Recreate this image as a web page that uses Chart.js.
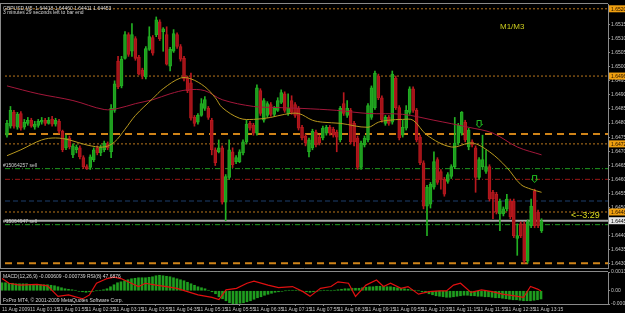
<!DOCTYPE html>
<html><head><meta charset="utf-8">
<script src="https://cdn.jsdelivr.net/npm/chart.js@4.4.1/dist/chart.umd.min.js"></script>
<style>
html,body{margin:0;padding:0;background:#000;width:625px;height:313px;overflow:hidden}
#wrap{position:relative;width:625px;height:313px;background:#000;overflow:hidden}
canvas{display:block;position:absolute;left:0}
#c1{top:-1px}
#c2{top:266px}
</style></head><body>
<div id="wrap"><canvas id="c1" width="625" height="274" style="width:625px;height:274px"></canvas><canvas id="c2" width="625" height="47" style="width:625px;height:47px"></canvas></div>
<script>
// ---------- data ----------
const symbolTitle = "GBPUSD,M5";
const countdownText = "3 minutes 29 seconds left to bar end";
const tickBars = [0,8,16,24,32,40,48,56,64,72,80,88,96,104,112,120,128,136,144,152];
const tickLabels = ["11 Aug 2009","11 Aug 01:15","11 Aug 01:55","11 Aug 02:35","11 Aug 03:15","11 Aug 03:55","11 Aug 04:35","11 Aug 05:15","11 Aug 05:55","11 Aug 06:35","11 Aug 07:15","11 Aug 07:55","11 Aug 08:35","11 Aug 09:15","11 Aug 09:55","11 Aug 10:35","11 Aug 11:15","11 Aug 11:55","11 Aug 12:35","11 Aug 13:15"];
const priceTicks = [1.6515,1.6510,1.6505,1.6500,1.6495,1.6490,1.6485,1.6480,1.6475,1.6470,1.6465,1.6460,1.6455,1.6450,1.6445,1.6440,1.6435,1.6430];
const macdTicks = [0.00139,0,-0.00098];

const opens = [1.64757,1.64789,1.64838,1.64785,1.64834,1.64785,1.64799,1.64810,1.64785,1.64792,
1.64803,1.64810,1.64799,1.64813,1.64796,1.64806,1.64771,1.64712,1.64747,1.64687,
1.64705,1.64712,1.64677,1.64645,1.64642,1.64670,1.64712,1.64694,1.64705,1.64726,
1.64698,1.64845,1.65020,1.64932,1.65030,1.65114,1.65055,1.65100,1.65034,1.64988,
1.64964,1.65062,1.65104,1.65114,1.65160,1.65125,1.65114,1.65002,1.65055,1.65114,
1.65072,1.65030,1.64960,1.64943,1.64820,1.64803,1.64827,1.64852,1.64852,1.64810,
1.64705,1.64698,1.64712,1.64519,1.64607,1.64698,1.64663,1.64663,1.64694,1.64733,
1.64799,1.64792,1.64764,1.64915,1.64810,1.64827,1.64866,1.64831,1.64845,1.64873,
1.64904,1.64834,1.64880,1.64866,1.64852,1.64785,1.64754,1.64698,1.64712,1.64768,
1.64750,1.64747,1.64764,1.64785,1.64778,1.64768,1.64740,1.64869,1.64827,1.64845,
1.64799,1.64747,1.64642,1.64722,1.64740,1.64820,1.64855,1.64967,1.64890,1.64799,
1.64820,1.64803,1.64960,1.64855,1.64757,1.64782,1.64838,1.64922,1.64845,1.64750,
1.64659,1.64505,1.64512,1.64572,1.64670,1.64628,1.64600,1.64593,1.64610,1.64645,
1.64729,1.64764,1.64803,1.64715,1.64733,1.64712,1.64607,1.64645,1.64628,1.64645,
1.64554,1.64547,1.64477,1.64477,1.64495,1.64523,1.64523,1.64390,1.64442,1.64442,
1.64309,1.64435,1.64558,1.64484,1.64418];
const highs = [1.64810,1.64859,1.64845,1.64838,1.64841,1.64813,1.64820,1.64817,1.64806,1.64813,
1.64820,1.64817,1.64820,1.64824,1.64817,1.64813,1.64775,1.64757,1.64754,1.64726,
1.64722,1.64719,1.64684,1.64652,1.64687,1.64712,1.64719,1.64722,1.64736,1.64733,
1.64866,1.64950,1.65037,1.65037,1.65125,1.65121,1.65153,1.65107,1.65041,1.64995,
1.65072,1.65142,1.65111,1.65177,1.65167,1.65139,1.65142,1.65069,1.65132,1.65121,
1.65079,1.65037,1.64967,1.64978,1.64827,1.64834,1.64887,1.64894,1.64859,1.64817,
1.64712,1.64740,1.64719,1.64617,1.64740,1.64712,1.64684,1.64705,1.64740,1.64810,
1.64806,1.64799,1.64936,1.64922,1.64887,1.64876,1.64873,1.64859,1.64890,1.64918,
1.64911,1.64904,1.64897,1.64873,1.64859,1.64792,1.64761,1.64747,1.64778,1.64775,
1.64757,1.64789,1.64792,1.64792,1.64785,1.64775,1.64859,1.64908,1.64880,1.64852,
1.64806,1.64754,1.64736,1.64754,1.64869,1.64932,1.64985,1.64974,1.64897,1.64827,
1.64827,1.64985,1.64967,1.64862,1.64810,1.64862,1.64929,1.64929,1.64852,1.64757,
1.64666,1.64579,1.64589,1.64698,1.64677,1.64635,1.64607,1.64624,1.64652,1.64820,
1.64799,1.64841,1.64810,1.64782,1.64740,1.64719,1.64677,1.64757,1.64705,1.64652,
1.64561,1.64554,1.64530,1.64502,1.64547,1.64530,1.64530,1.64442,1.64449,1.64449,
1.64456,1.64530,1.64565,1.64491,1.64460];
const lows = [1.64750,1.64782,1.64782,1.64778,1.64775,1.64778,1.64792,1.64785,1.64778,1.64785,
1.64796,1.64792,1.64796,1.64789,1.64789,1.64764,1.64698,1.64705,1.64708,1.64677,
1.64694,1.64673,1.64638,1.64635,1.64635,1.64663,1.64687,1.64684,1.64698,1.64705,
1.64677,1.64838,1.64922,1.64925,1.65027,1.65037,1.65037,1.65023,1.64971,1.64957,
1.64957,1.65058,1.65041,1.65107,1.65093,1.65055,1.65006,1.64985,1.65051,1.65065,
1.65020,1.64950,1.64908,1.64810,1.64789,1.64796,1.64824,1.64845,1.64813,1.64687,
1.64649,1.64694,1.64512,1.64453,1.64600,1.64642,1.64656,1.64659,1.64687,1.64726,
1.64775,1.64757,1.64757,1.64827,1.64803,1.64820,1.64824,1.64824,1.64841,1.64869,
1.64838,1.64827,1.64831,1.64820,1.64775,1.64740,1.64719,1.64680,1.64705,1.64715,
1.64722,1.64740,1.64757,1.64757,1.64750,1.64698,1.64733,1.64827,1.64820,1.64726,
1.64719,1.64635,1.64635,1.64715,1.64733,1.64813,1.64848,1.64883,1.64803,1.64792,
1.64792,1.64796,1.64848,1.64740,1.64750,1.64775,1.64831,1.64838,1.64733,1.64652,
1.64495,1.64400,1.64498,1.64565,1.64582,1.64565,1.64540,1.64586,1.64603,1.64638,
1.64722,1.64757,1.64733,1.64705,1.64715,1.64554,1.64600,1.64635,1.64621,1.64523,
1.64460,1.64477,1.64418,1.64470,1.64488,1.64460,1.64393,1.64330,1.64393,1.64302,
1.64302,1.64428,1.64428,1.64428,1.64411];
const closes = [1.64799,1.64845,1.64789,1.64831,1.64782,1.64803,1.64810,1.64789,1.64796,1.64806,
1.64810,1.64799,1.64810,1.64796,1.64810,1.64771,1.64705,1.64747,1.64715,1.64719,
1.64715,1.64680,1.64645,1.64638,1.64680,1.64705,1.64694,1.64715,1.64729,1.64712,
1.64852,1.64939,1.64929,1.65027,1.65114,1.65044,1.65114,1.65030,1.64974,1.64967,
1.65065,1.65107,1.65048,1.65167,1.65100,1.65135,1.65009,1.65062,1.65118,1.65072,
1.65027,1.64957,1.64915,1.64817,1.64799,1.64827,1.64869,1.64883,1.64820,1.64705,
1.64659,1.64712,1.64519,1.64610,1.64705,1.64652,1.64677,1.64698,1.64733,1.64796,
1.64782,1.64764,1.64925,1.64834,1.64880,1.64869,1.64831,1.64852,1.64880,1.64908,
1.64845,1.64852,1.64838,1.64827,1.64782,1.64747,1.64729,1.64740,1.64771,1.64722,
1.64729,1.64782,1.64785,1.64764,1.64757,1.64750,1.64852,1.64834,1.64852,1.64733,
1.64733,1.64642,1.64729,1.64747,1.64862,1.64925,1.64978,1.64890,1.64810,1.64820,
1.64799,1.64974,1.64855,1.64747,1.64785,1.64845,1.64922,1.64845,1.64740,1.64659,
1.64505,1.64572,1.64582,1.64663,1.64589,1.64600,1.64547,1.64617,1.64645,1.64729,
1.64792,1.64838,1.64740,1.64775,1.64722,1.64607,1.64670,1.64670,1.64645,1.64530,
1.64530,1.64484,1.64523,1.64495,1.64530,1.64467,1.64400,1.64400,1.64400,1.64309,
1.64449,1.64505,1.64435,1.64435,1.64453];

const maFastIdx = [0,4,10,14,18,23,28,31,34,37,42,45,50,53,57,60,62,67,71,76,80,84,88,91,96,104,107,110,114,117,121,128,134,139,144,148,151,154];
const maFastVal = [1.64684,1.64705,1.64740,1.64747,1.64740,1.64722,1.64715,1.64733,1.64778,1.64827,1.64887,1.64922,1.64960,1.64957,1.64929,1.64890,1.64855,1.64817,1.64813,1.64820,1.64831,1.64834,1.64810,1.64803,1.64799,1.64785,1.64803,1.64810,1.64813,1.64810,1.64757,1.64715,1.64729,1.64698,1.64642,1.64582,1.64565,1.64554];
const maSlowIdx = [0,9,19,28,32,37,42,47,52,57,62,71,78,85,95,104,114,123,133,140,147,154];
const maSlowVal = [1.64932,1.64904,1.64880,1.64848,1.64852,1.64869,1.64883,1.64904,1.64918,1.64915,1.64883,1.64859,1.64855,1.64852,1.64845,1.64834,1.64831,1.64810,1.64785,1.64764,1.64715,1.64687];

const levelsOrangeDotted = [1.65206,1.64967,1.64726,1.64484];
const levelsOrangeDashed = [1.64761,1.64302];
const levelsGreen = [1.64638,1.64439];
const levelsRed = [1.64600];
const levelsBlue = [1.64523];
const bidPrice = 1.64453;
const orderLabels = ["#15064257 sell","#15064947 sell"];

const arrowIdx = [136,152];
const arrowPrice = [1.64797,1.64602];

const macdHist = [0.000592,0.000592,0.000555,0.000555,0.000518,0.000518,0.000518,0.000518,0.000481,0.000481,0.000481,0.000444,0.000444,0.000444,0.000407,
0.000370,0.000296,0.000222,0.000148,0.000111,0.000074,0.000037,-0.000037,-0.000074,-0.000111,-0.000074,-0.000037,0.000000,0.000037,
0.000074,0.000148,0.000296,0.000444,0.000592,0.000666,0.000740,0.000814,0.000888,0.000925,0.000962,0.000962,0.000962,0.000999,0.001036,0.001110,0.001147,0.001110,0.001073,0.001036,0.000962,0.000888,
0.000814,0.000740,0.000629,0.000518,0.000407,0.000296,0.000222,0.000148,0.000037,
-0.000074,-0.000222,-0.000444,-0.000592,-0.000740,-0.000888,-0.000962,-0.000962,-0.000925,-0.000888,-0.000814,-0.000740,-0.000629,-0.000518,-0.000444,-0.000333,-0.000259,-0.000185,-0.000111,
-0.000074,-0.000037,0.000000,0.000037,0.000037,0.000037,0.000000,-0.000037,-0.000074,-0.000111,-0.000074,-0.000037,0.000000,0.000037,0.000037,0.000000,0.000037,
0.000074,0.000111,0.000148,0.000148,0.000185,0.000185,0.000185,0.000222,0.000259,0.000296,0.000296,0.000333,0.000333,0.000333,0.000296,0.000296,0.000259,
0.000222,0.000185,0.000148,0.000111,0.000074,0.000037,0.000000,-0.000074,-0.000148,
-0.000222,-0.000296,-0.000370,-0.000407,-0.000444,-0.000481,-0.000481,-0.000444,-0.000407,-0.000370,-0.000333,-0.000333,-0.000370,-0.000370,-0.000407,-0.000407,-0.000444,-0.000444,-0.000481,
-0.000518,-0.000518,-0.000555,-0.000592,-0.000629,-0.000666,-0.000666,-0.000703,-0.000740,-0.000740,-0.000740,-0.000703,-0.000666,-0.000609];
const rsiIdx = [0,2,5,10,13,16,19,23,25,27,30,32,34,36,39,41,44,47,50,53,56,60,62,64,67,70,72,76,79,83,86,88,91,94,96,99,101,104,107,109,111,114,116,119,122,125,127,129,131,134,137,140,143,146,149,151,153,154];
const rsiVal = [82,69,64,66,62,33,37,26,37,69,82,86,82,73,60,69,64,60,55,46,37,30,24,51,55,69,75,64,57,60,46,33,55,60,73,69,33,64,78,60,69,55,60,39,46,48,48,64,69,44,51,46,39,35,30,60,53,47.6876];
const macdSignal = -0.000739;

// ---------- layout constants ----------
const X_MIN = -0.5714, X_MAX = 173.143;
const Y_MAX = 1.65223, Y_MIN = 1.64285;
const FF = "'Liberation Sans', Arial, sans-serif";
const upCol = '#22b022', dnCol = '#b8181e';
const upFill = 'rgba(30,140,30,0.55)', dnFill = 'rgba(150,18,22,0.55)';

const N = opens.length;
const last = N - 1;
const isUp = closes.map((c,i)=>c>=opens[i]);
const bodyData = opens.map((o,i)=>({x:i, y:[Math.min(o,closes[i]), Math.max(o,closes[i])]}));
const wickData = opens.map((o,i)=>({x:i, y:[lows[i], highs[i]]}));

function hline(p, color, dash, width){
  return {type:'line', data:[{x:X_MIN,y:p},{x:X_MAX,y:p}], borderColor:color, borderDash:dash, borderWidth:width, pointRadius:0, order:10};
}
function arrowImg(){
  const c=document.createElement('canvas'); c.width=7; c.height=8;
  const g=c.getContext('2d'); g.strokeStyle='#22cc22'; g.lineWidth=1;
  g.beginPath(); g.moveTo(1.5,0.5); g.lineTo(5.5,0.5); g.lineTo(5.5,4.5); g.lineTo(6.5,4.5);
  g.lineTo(3.5,7.5); g.lineTo(0.5,4.5); g.lineTo(1.5,4.5); g.closePath(); g.stroke();
  return c;
}

const datasets = [];
levelsOrangeDotted.forEach(p=>datasets.push(hline(p,'#b8761c',[2,2],1)));
levelsOrangeDashed.forEach(p=>datasets.push(hline(p,'#d08418',[7,5],2)));
levelsGreen.forEach(p=>datasets.push(hline(p,'#1f9e1f',[5,2,1,2],1)));
levelsRed.forEach(p=>datasets.push(hline(p,'#9c1616',[5,2,1,2],1)));
levelsBlue.forEach(p=>datasets.push(hline(p,'#1c3e6c',[5,3],1)));
datasets.push(hline(bidPrice,'#a8a8a8',[],2));
datasets.push({type:'bar', data:wickData, backgroundColor:isUp.map(u=>u?upCol:dnCol), barThickness:1, grouped:false, order:8});
datasets.push({type:'bar', data:bodyData, backgroundColor:isUp.map(u=>u?upFill:dnFill), borderColor:isUp.map(u=>u?upCol:dnCol), borderWidth:1, borderSkipped:false, barThickness:3, minBarLength:1, grouped:false, order:7});
datasets.push({type:'line', data:maFastIdx.map((k,i)=>({x:k,y:maFastVal[i]})), borderColor:'#b8981e', borderWidth:1, pointRadius:0, tension:0.35, order:5});
datasets.push({type:'line', data:maSlowIdx.map((k,i)=>({x:k,y:maSlowVal[i]})), borderColor:'#a3173a', borderWidth:1, pointRadius:0, tension:0.35, order:5});
datasets.push({type:'line', data:arrowIdx.map((k,i)=>({x:k,y:arrowPrice[i]})), showLine:false, pointStyle:arrowImg(), pointRadius:4, order:1});

const mainOverlay = {
  id:'mainOverlay',
  afterDraw(chart){
    const {ctx, chartArea:a, scales:{y}} = chart;
    ctx.save();
    ctx.strokeStyle='#8a8a8a'; ctx.lineWidth=1;
    ctx.beginPath();
    ctx.moveTo(0,a.top-0.5); ctx.lineTo(a.right,a.top-0.5);
    ctx.moveTo(0.5,a.top-1); ctx.lineTo(0.5,a.bottom+1);
    ctx.moveTo(0,a.bottom+0.5); ctx.lineTo(a.right+1,a.bottom+0.5);
    ctx.stroke();
    ctx.textAlign='left'; ctx.textBaseline='alphabetic';
    ctx.fillStyle='#d8d8d8'; ctx.font='5px '+FF;
    ctx.fillText(symbolTitle+'  '+opens[last].toFixed(5)+' '+highs[last].toFixed(5)+' '+lows[last].toFixed(5)+' '+closes[last].toFixed(5), 3, a.top+5.5);
    ctx.fillText(countdownText, 3, a.top+10);
    // order labels
    levelsGreen.forEach((p,i)=>{
      const py=y.getPixelForValue(p);
      ctx.fillStyle='#cfcfcf'; ctx.font='5px '+FF;
      ctx.fillText(orderLabels[i], 3, py-1.5);
    });
    // price labels on axis
    ctx.font='5px '+FF;
    levelsOrangeDotted.forEach(p=>{
      const py=y.getPixelForValue(p);
      ctx.fillStyle='#f0a010'; ctx.fillRect(a.right+1, py-3.5, 17, 7);
      ctx.fillStyle='#201000'; ctx.fillText(p.toFixed(5), a.right+3, py+2);
    });
    const by=y.getPixelForValue(bidPrice);
    ctx.fillStyle='#e6e6e6'; ctx.fillRect(a.right+1, by-3.5, 17, 7);
    ctx.fillStyle='#000'; ctx.fillText(bidPrice.toFixed(5), a.right+3, by+2);
    // annotations
    ctx.fillStyle='#cccc1e'; ctx.font='8px '+FF;
    ctx.fillText('M1/M3', 500, 30);
    ctx.fillStyle='#dcdc20'; ctx.font='9px '+FF;
    ctx.fillText('<--3:29', 571, y.getPixelForValue(bidPrice)-2.5);
    ctx.restore();
  }
};

new Chart(document.getElementById('c1'), {
  type:'bar',
  data:{datasets},
  options:{
    responsive:false, animation:false, devicePixelRatio:1, events:[],
    layout:{padding:{left:0,right:0,top:3,bottom:3}},
    plugins:{legend:{display:false}, tooltip:{enabled:false}},
    scales:{
      x:{type:'linear', min:X_MIN, max:X_MAX, offset:false, display:false},
      y:{position:'right', min:Y_MIN, max:Y_MAX,
         afterFit(s){ s.width=17; },
         afterBuildTicks(s){ s.ticks = priceTicks.map(v=>({value:v})); },
         ticks:{color:'#c4c4c4', font:{size:5, family:FF}, padding:1, callback:v=>Number(v).toFixed(5)},
         grid:{display:true, drawOnChartArea:false, drawTicks:true, tickLength:2, color:'#8a8a8a'},
         border:{display:true, color:'#8a8a8a'}}
    }
  },
  plugins:[mainOverlay]
});

const lowerOverlay = {
  id:'lowerOverlay',
  afterDraw(chart){
    const {ctx, chartArea:a} = chart;
    ctx.save();
    ctx.strokeStyle='#8a8a8a'; ctx.lineWidth=1;
    ctx.beginPath();
    ctx.moveTo(0,a.top-0.5); ctx.lineTo(a.right,a.top-0.5);
    ctx.moveTo(0.5,a.top-1); ctx.lineTo(0.5,a.bottom+1);
    ctx.moveTo(0,a.bottom+0.5); ctx.lineTo(a.right+1,a.bottom+0.5);
    ctx.stroke();
    ctx.textAlign='left'; ctx.textBaseline='alphabetic';
    ctx.fillStyle='#d8d8d8'; ctx.font='5px '+FF;
    ctx.fillText('MACD(12,26,9) '+macdHist[last].toFixed(6)+' '+macdSignal.toFixed(6)+' RSI(8) '+rsiVal[rsiVal.length-1].toFixed(4), 3, a.top+6);
    ctx.fillText('FxPro MT4, \u00A9 2001-2009 MetaQuotes Software Corp.', 3, a.bottom-2);
    ctx.restore();
  }
};

new Chart(document.getElementById('c2'), {
  type:'bar',
  data:{datasets:[
    {type:'line', data:rsiIdx.map((k,i)=>({x:k,y:rsiVal[i]})), yAxisID:'yr', borderColor:'#e01010', borderWidth:1.2, pointRadius:0, tension:0, order:1},
    {type:'bar', data:macdHist.map((v,i)=>({x:i,y:v})), yAxisID:'y', backgroundColor:'#1f9e1f', barThickness:2, grouped:false, order:2}
  ]},
  options:{
    responsive:false, animation:false, devicePixelRatio:1, events:[],
    layout:{padding:{left:0,right:0,top:6,bottom:0}},
    plugins:{legend:{display:false}, tooltip:{enabled:false}},
    scales:{
      x:{type:'linear', min:X_MIN, max:X_MAX, offset:false, position:'bottom',
         afterFit(s){ s.height=9; },
         afterBuildTicks(s){ s.ticks = tickBars.map(v=>({value:v})); },
         ticks:{align:'start', color:'#c4c4c4', font:{size:5, family:FF}, padding:1, maxRotation:0, autoSkip:false, callback:(v,i)=>tickLabels[i]},
         grid:{display:true, drawOnChartArea:false, drawTicks:true, tickLength:2, color:'#8a8a8a'},
         border:{display:false}},
      y:{position:'right', min:macdTicks[2], max:macdTicks[0],
         afterFit(s){ s.width=17; },
         afterBuildTicks(s){ s.ticks = macdTicks.map(v=>({value:v})); },
         ticks:{color:'#c4c4c4', font:{size:5, family:FF}, padding:1, callback:v=> v===0?'0.00':Number(v).toFixed(6)},
         grid:{display:true, drawOnChartArea:false, drawTicks:true, tickLength:2, color:'#8a8a8a'},
         border:{display:true, color:'#8a8a8a'}},
      yr:{display:false, min:12, max:100}
    }
  },
  plugins:[lowerOverlay]
});
</script>
</body></html>
